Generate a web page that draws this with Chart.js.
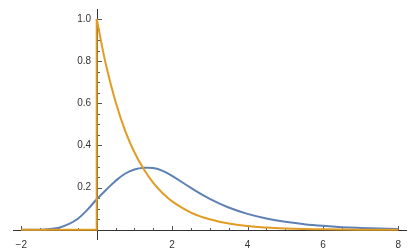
<!DOCTYPE html>
<html>
<head>
<meta charset="utf-8">
<script src="https://cdn.jsdelivr.net/npm/chart.js@4.4.0/dist/chart.umd.min.js"></script>
<style>
html, body { margin: 0; padding: 0; background: #fff; }
#wrap { width: 415px; height: 249px; }
</style>
</head>
<body>
<div id="wrap"><canvas id="plot"></canvas></div>
<script>
// blue curve
var blueX = [-2, -1.5, -1.25, -1, -0.75, -0.5, -0.25, 0, 0.25, 0.5, 0.75, 1, 1.25, 1.5, 1.75, 2, 2.5, 3, 3.5, 4, 4.5, 5, 5.5, 6, 6.5, 7, 7.5, 8];
var blueY = [0.000, 0.001, 0.004, 0.010, 0.027, 0.053, 0.095, 0.145, 0.19, 0.232, 0.266, 0.286, 0.294, 0.293, 0.280, 0.256, 0.199, 0.147, 0.106, 0.076, 0.054, 0.038, 0.027, 0.019, 0.013, 0.009, 0.006, 0.004];

// orange curve: flat part + jump at 0, then the decay
var stepX = [-2, 0, 0];
var stepY = [0, 0, 1];
var orangeX = [0, 0.25, 0.5, 0.75, 1, 1.25, 1.5, 1.75, 2, 2.5, 3, 3.5, 4, 4.5, 5, 5.5, 6, 7, 8];
var orangeY = [1, 0.779, 0.607, 0.472, 0.368, 0.287, 0.223, 0.174, 0.135, 0.082, 0.050, 0.030, 0.018, 0.011, 0.0067, 0.0041, 0.0025, 0.0009, 0.0003];

var xTicks = [-2, 2, 4, 6, 8];
var yTicks = [0.2, 0.4, 0.6, 0.8, 1.0];

function pts(xs, ys) {
	return xs.map(function (x, i) { return { x: x, y: ys[i] }; });
}

var blue = '#5E81B5', orange = '#E19C24';

// mathematica style axes through the origin, ticks pointing inward
var axesPlugin = {
	id: 'mmaAxes',
	beforeDatasetsDraw: function (chart) {
		var c = chart.ctx, xs = chart.scales.x, ys = chart.scales.y, a = chart.chartArea;
		var x0 = Math.round(xs.getPixelForValue(0)) + 0.5;
		var y0 = Math.round(ys.getPixelForValue(0)) + 0.5;
		c.save();
		c.strokeStyle = '#555';
		c.lineWidth = 1;
		c.beginPath();
		var v, p, len;
		for (v = -2; v <= 8.001; v += 0.5) {
			if (Math.abs(v) < 1e-6) continue;
			p = Math.round(xs.getPixelForValue(v)) + 0.5;
			len = Math.abs(v % 2) < 1e-6 ? 4.5 : 2.5;
			c.moveTo(p, y0); c.lineTo(p, y0 - len);
		}
		for (v = 0.05; v <= 1.0001; v += 0.05) {
			p = Math.round(ys.getPixelForValue(v)) + 0.5;
			len = Math.abs(Math.round(v * 100) % 20) < 1e-6 ? 4.5 : 2.5;
			c.moveTo(x0, p); c.lineTo(x0 + len, p);
		}
		c.stroke();
		c.strokeStyle = '#333';
		c.beginPath();
		c.moveTo(a.left, y0); c.lineTo(a.right, y0);
		c.moveTo(x0, a.top); c.lineTo(x0, a.bottom);
		c.stroke();
		c.restore();
	}
};

var ctx = document.getElementById('plot').getContext('2d');
var chart = new Chart(ctx, {
	type: 'line',
	data: {
		datasets: [{
			data: pts(stepX, stepY),
			borderColor: orange,
			borderWidth: 2,
			tension: 0
		}, {
			data: pts(orangeX, orangeY),
			borderColor: orange,
			borderWidth: 2,
			tension: 0.4
		}, {
			data: pts(blueX, blueY),
			borderColor: blue,
			borderWidth: 2,
			tension: 0.4
		}]
	},
	options: {
		responsive: true,
		maintainAspectRatio: false,
		animation: false,
		layout: { autoPadding: false, padding: { left: 13, right: 8, top: 2, bottom: 6 } },
		elements: { point: { radius: 0 } },
		plugins: { legend: { display: false }, tooltip: { enabled: false } },
		scales: {
			x: {
				type: 'linear',
				min: -2.22,
				max: 8.23,
				position: { y: 0 },
				grid: { display: false },
				border: { display: false },
				afterFit: function (s) { s.height = 0; },
				afterBuildTicks: function (s) { s.ticks = xTicks.map(function (v) { return { value: v }; }); },
				ticks: {
					autoSkip: false,
					maxRotation: 0,
					padding: 1,
					color: '#333',
					font: { family: 'Liberation Sans', size: 10 },
					callback: function (v) { return v < 0 ? '\u2212' + Math.abs(v) : String(v); }
				}
			},
			y: {
				type: 'linear',
				min: -0.048,
				max: 1.047,
				position: { x: 0 },
				grid: { display: false },
				border: { display: false },
				afterFit: function (s) { s.width = 0; },
				afterBuildTicks: function (s) { s.ticks = yTicks.map(function (v) { return { value: v }; }); },
				ticks: {
					autoSkip: false,
					color: '#333',
					font: { family: 'Liberation Sans', size: 10 },
					// the centred axis ignores padding, so two trailing spaces keep the labels off the line
					callback: function (v) { return v.toFixed(1) + '  '; }
				}
			}
		}
	},
	plugins: [axesPlugin]
});
</script>
</body>
</html>
